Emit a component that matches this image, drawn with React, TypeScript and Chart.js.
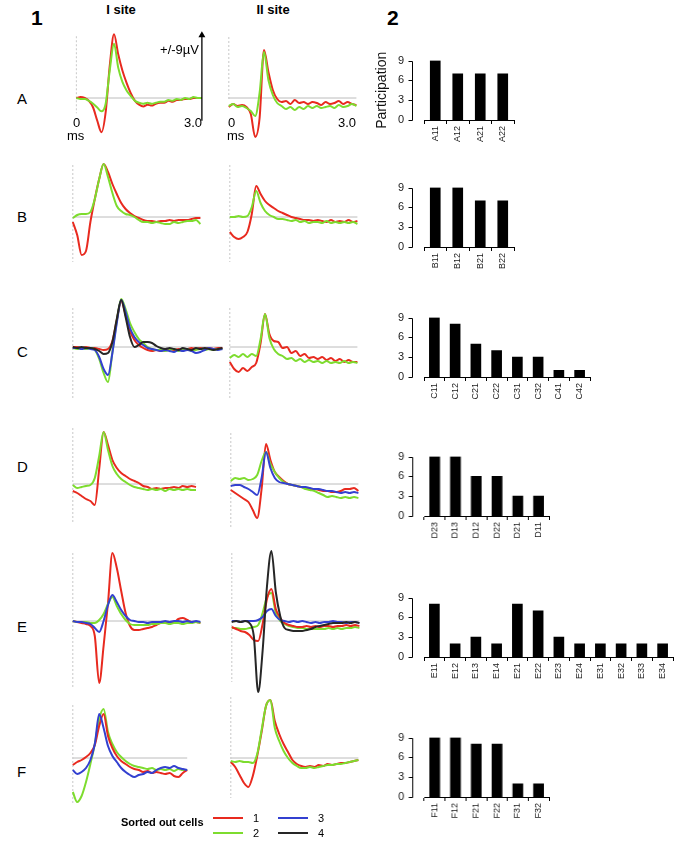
import React, { useEffect, useRef } from "react";
import { Chart, registerables } from "chart.js";

Chart.register(...registerables);

const FONT = "'Liberation Sans', Arial, Helvetica, sans-serif";
Chart.defaults.font.family = FONT;

// ---------- waveform data (µV, sampled every 0.1 ms) ----------
const TIME = [0, 0.1, 0.2, 0.3, 0.4, 0.5, 0.6, 0.7, 0.8, 0.9, 1.0, 1.1, 1.2, 1.3, 1.4, 1.5, 1.6, 1.7, 1.8, 1.9, 2.0, 2.1, 2.2, 2.3, 2.4, 2.5, 2.6, 2.7, 2.8, 2.9, 3.0, 3.1, 3.2, 3.3, 3.4];

const A1_red = [0.0, 0.1, 0.0, -0.3, -1.0, -2.4, -3.6, -1.5, 3.5, 6.7, 4.6, 2.9, 1.6, 0.5, -0.3, -0.7, -0.9, -0.7, -0.8, -0.6, -0.5, -0.5, -0.3, -0.4, -0.2, -0.2, -0.1, -0.1, 0.0, 0.0, 0.0];
const A1_green = [0.0, -0.1, -0.1, -0.3, -0.6, -1.0, -1.4, -0.6, 3.0, 5.7, 3.2, 1.7, 0.8, 0.2, -0.3, -0.5, -0.6, -0.5, -0.6, -0.5, -0.4, -0.4, -0.2, -0.3, -0.1, -0.2, 0.0, -0.1, 0.1, 0.0, 0.0];

const A2_red = [-0.9, -0.6, -0.8, -0.7, -0.9, -1.6, -3.9, -2.0, 4.8, 2.6, 0.8, -0.1, -0.4, -0.3, -0.6, -0.2, -0.5, -0.4, -0.6, -0.4, -0.5, -0.7, -0.4, -0.6, -0.5, -0.3, -0.6, -0.4, -0.6, -0.7];
const A2_green = [-0.8, -0.6, -0.9, -0.8, -1.0, -1.3, -1.8, 0.5, 4.6, 1.8, 0.3, -0.5, -0.8, -1.1, -0.9, -1.2, -0.9, -1.1, -0.8, -1.0, -0.8, -1.0, -0.9, -0.8, -1.0, -0.7, -0.9, -0.8, -0.6, -0.8];

const B1_red = [-0.5, -1.8, -3.8, -3.4, -0.5, 1.8, 3.8, 5.3, 4.5, 3.3, 2.3, 1.4, 0.8, 0.4, 0.1, -0.1, -0.3, -0.4, -0.4, -0.5, -0.4, -0.4, -0.3, -0.4, -0.3, -0.3, -0.3, -0.2, -0.1, -0.1];
const B1_green = [-0.1, 0.2, 0.3, 0.3, 0.5, 1.8, 3.8, 5.3, 4.0, 2.4, 1.1, 0.6, 0.3, 0.2, 0.0, -0.3, -0.5, -0.5, -0.6, -0.5, -0.6, -0.7, -0.7, -0.5, -0.6, -0.5, -0.4, -0.4, -0.3, -0.7];

const B2_red = [-1.5, -2.0, -2.2, -2.0, -1.5, 0.3, 3.1, 2.3, 1.6, 1.2, 0.9, 0.6, 0.4, 0.2, 0.0, -0.1, -0.2, -0.3, -0.3, -0.4, -0.3, -0.4, -0.5, -0.3, -0.5, -0.4, -0.5, -0.3, -0.5, -0.4];
const B2_green = [0.0, 0.0, 0.1, 0.0, 0.1, 1.0, 2.6, 1.4, 0.6, 0.2, 0.0, -0.2, -0.2, -0.3, -0.4, -0.3, -0.5, -0.4, -0.6, -0.5, -0.5, -0.6, -0.4, -0.6, -0.5, -0.6, -0.5, -0.6, -0.5, -0.7];

const C1_red = [0.0, 0.0, -0.1, 0.0, -0.1, -0.1, -0.2, -0.3, -0.2, 0.6, 2.7, 4.6, 3.2, 1.6, 0.7, 0.2, -0.1, -0.3, -0.4, -0.3, -0.4, -0.3, -0.2, -0.3, -0.2, -0.3, -0.2, -0.1, -0.2, -0.1, -0.2, -0.1, -0.2, -0.1, -0.1];
const C1_green = [-0.1, -0.2, -0.1, -0.2, -0.1, -0.3, -1.2, -2.6, -3.5, -0.5, 2.6, 4.8, 3.8, 2.4, 1.5, 0.8, 0.4, 0.0, -0.2, -0.3, -0.3, -0.4, -0.3, -0.2, -0.4, -0.3, -0.2, -0.4, -0.3, -0.2, -0.3, -0.2, -0.3, -0.2, -0.2];
const C1_blue = [-0.1, -0.1, -0.2, -0.1, -0.2, -0.3, -1.0, -2.2, -2.8, -0.6, 2.4, 4.7, 3.5, 1.9, 1.0, 0.5, 0.2, -0.1, -0.2, -0.3, -0.4, -0.3, -0.4, -0.5, -0.3, -0.4, -0.3, -0.4, -0.6, -0.5, -0.3, -0.1, -0.2, -0.3, -0.2];
const C1_black = [0.0, -0.1, 0.0, -0.1, -0.1, -0.2, -0.4, -0.7, -0.6, 0.5, 2.8, 4.7, 3.0, 1.0, 0.0, 0.2, 0.5, 0.5, 0.4, 0.1, -0.1, -0.2, -0.1, -0.2, -0.3, -0.1, -0.2, -0.3, -0.1, -0.2, -0.1, -0.2, -0.3, -0.2, -0.1];

const C2_red = [-1.5, -2.2, -2.5, -2.1, -2.4, -2.0, -1.6, 0.4, 3.3, 1.3, 0.6, 0.5, -0.1, 0.0, -0.6, -0.4, -0.9, -0.7, -1.1, -1.0, -1.2, -1.0, -1.3, -1.1, -1.4, -1.2, -1.5, -1.3, -1.5, -1.5];
const C2_green = [-1.1, -0.8, -1.0, -0.7, -1.0, -0.7, -0.9, 0.8, 3.3, 0.9, -0.2, -0.7, -0.9, -1.2, -1.1, -1.4, -1.2, -1.5, -1.3, -1.5, -1.4, -1.6, -1.4, -1.6, -1.5, -1.6, -1.4, -1.6, -1.5, -1.6];

const D1_red = [-0.7, -0.9, -1.2, -1.5, -1.7, -2.1, 1.5, 5.2, 3.9, 2.4, 1.6, 1.1, 0.8, 0.5, 0.3, 0.1, -0.2, -0.3, -0.5, -0.4, -0.5, -0.4, -0.4, -0.3, -0.4, -0.2, -0.3, -0.2, -0.3];
const D1_green = [-0.1, -0.4, -0.3, -0.2, -0.1, 0.6, 2.8, 5.2, 3.4, 1.8, 1.0, 0.5, 0.2, -0.1, -0.3, -0.4, -0.5, -0.6, -0.5, -0.6, -0.5, -0.7, -0.5, -0.6, -0.5, -0.6, -0.5, -0.6, -0.6];

const D2_red = [-0.6, -0.9, -1.2, -1.5, -1.8, -2.6, -3.4, -0.5, 4.0, 2.4, 1.2, 0.7, 0.3, 0.0, -0.1, -0.2, -0.3, -0.4, -0.5, -0.5, -0.6, -0.7, -0.7, -0.8, -0.8, -0.7, -0.5, -0.5, -0.4, -0.7];
const D2_green = [0.3, 0.6, 0.5, 0.6, 0.4, 0.5, 0.9, 2.3, 3.2, 2.0, 1.2, 0.6, 0.2, 0.0, -0.1, -0.2, -0.3, -0.5, -0.6, -0.7, -0.9, -1.1, -1.3, -1.2, -1.3, -1.4, -1.3, -1.4, -1.3, -1.4];
const D2_blue = [-0.2, -0.1, -0.1, -0.3, -0.5, -0.8, -1.1, 0.6, 3.2, 1.6, 0.6, 0.2, 0.1, 0.0, -0.1, -0.2, -0.3, -0.3, -0.4, -0.5, -0.5, -0.6, -0.7, -0.7, -0.8, -0.9, -0.8, -0.9, -0.8, -0.9];

const E1_red = [0.0, -0.1, -0.2, -0.3, -0.5, -1.5, -6.2, -2.5, 1.8, 6.8, 5.3, 3.0, 0.8, -0.5, -0.9, -0.9, -0.8, -0.7, -0.6, -0.4, -0.2, -0.2, -0.1, -0.1, 0.2, 0.3, 0.1, -0.1, -0.1, -0.2];
const E1_green = [0.0, -0.1, -0.1, -0.1, -0.2, -0.2, 0.1, 0.7, 1.7, 2.4, 1.5, 0.7, 0.1, -0.3, -0.4, -0.4, -0.4, -0.4, -0.3, -0.3, -0.2, -0.2, -0.3, -0.2, -0.2, -0.3, -0.2, -0.2, -0.1, -0.2];
const E1_blue = [0.0, -0.1, -0.1, -0.2, -0.3, -0.7, -1.1, 0.0, 1.6, 2.6, 1.9, 1.1, 0.5, 0.1, 0.0, -0.1, -0.1, -0.2, -0.1, -0.1, -0.1, 0.0, -0.1, 0.0, 0.0, -0.1, 0.0, -0.1, 0.0, -0.1];

const E2_red = [-0.6, -0.8, -1.0, -1.1, -1.4, -1.9, -2.0, -0.3, 2.2, 3.2, 1.2, 0.3, -0.2, -0.4, -0.5, -0.6, -0.6, -0.5, -0.6, -0.5, -0.6, -0.5, -0.5, -0.6, -0.5, -0.5, -0.4, -0.5, -0.4, -0.5];
const E2_green = [-0.7, -0.7, -0.8, -0.8, -0.7, -0.6, -0.4, 0.8, 2.4, 2.8, 0.8, 0.0, -0.3, -0.5, -0.6, -0.7, -0.7, -0.8, -0.8, -0.8, -0.8, -0.8, -0.7, -0.8, -0.7, -0.8, -0.7, -0.7, -0.6, -0.7];
const E2_blue = [0.0, 0.0, -0.1, 0.0, 0.0, 0.0, 0.1, 0.4, 1.0, 1.2, 0.5, 0.1, 0.0, -0.1, 0.0, -0.1, 0.0, -0.1, -0.2, -0.1, -0.2, -0.1, -0.1, 0.0, -0.1, -0.1, -0.2, -0.1, -0.1, -0.2];
const E2_black = [-0.1, 0.0, -0.1, 0.0, -0.2, -1.5, -7.1, -3.0, 3.5, 7.0, 2.9, 0.5, -0.7, -0.9, -1.0, -1.0, -1.0, -0.9, -0.8, -0.6, -0.5, -0.4, -0.3, -0.2, -0.2, -0.2, -0.1, -0.2, -0.1, -0.2];

const F1_red = [-0.7, -0.4, -0.2, 0.1, 0.5, 1.3, 3.2, 4.4, 2.2, 1.0, 0.2, -0.3, -0.6, -0.9, -1.1, -1.2, -1.4, -1.3, -1.5, -1.4, -1.5, -1.6, -1.5, -1.8, -1.9, -1.5, -1.2];
const F1_green = [-3.4, -4.4, -3.8, -2.4, -0.6, 1.4, 3.9, 4.9, 2.6, 1.4, 0.6, 0.1, -0.3, -0.6, -0.8, -0.9, -1.0, -1.1, -1.0, -1.2, -1.1, -1.2, -1.1, -1.3, -1.1, -1.2, -1.2];
const F1_blue = [-1.2, -1.6, -1.4, -1.0, -0.2, 1.4, 4.4, 3.0, 1.2, 0.2, -0.4, -1.0, -1.4, -1.7, -1.9, -1.7, -1.6, -1.4, -1.5, -1.2, -1.0, -0.9, -1.0, -0.8, -1.0, -1.1, -1.2];

const F2_red = [-0.4, -0.9, -1.7, -2.5, -2.9, -1.8, 0.2, 2.6, 5.2, 5.8, 3.7, 2.4, 1.4, 0.6, -0.2, -0.6, -0.8, -0.9, -0.8, -0.9, -0.7, -0.8, -0.6, -0.7, -0.6, -0.5, -0.5, -0.4, -0.3, -0.2];
const F2_green = [-0.3, -0.4, -0.3, -0.4, -0.4, -0.5, 0.4, 2.8, 5.2, 5.8, 3.0, 1.7, 0.7, 0.0, -0.5, -0.8, -1.0, -1.0, -0.9, -1.0, -0.9, -0.8, -0.7, -0.7, -0.6, -0.6, -0.5, -0.4, -0.3, -0.2];

const SCALE_BAR_UV = 9;

// ---------- participation data ----------
const A_labels = ["A11", "A12", "A21", "A22"];
const A_values = [9, 7, 7, 7];
const B_labels = ["B11", "B12", "B21", "B22"];
const B_values = [9, 9, 7, 7];
const C_labels = ["C11", "C12", "C21", "C22", "C31", "C32", "C41", "C42"];
const C_values = [9, 8, 5, 4, 3, 3, 1, 1];
const D_labels = ["D23", "D13", "D12", "D22", "D21", "D11"];
const D_values = [9, 9, 6, 6, 3, 3];
const E_labels = ["E11", "E12", "E13", "E14", "E21", "E22", "E23", "E24", "E31", "E32", "E33", "E34"];
const E_values = [8, 2, 3, 2, 8, 7, 3, 2, 2, 2, 2, 2];
const F_labels = ["F11", "F12", "F21", "F22", "F31", "F32"];
const F_values = [9, 9, 8, 8, 2, 2];
const Y_TICKS_MAX = 9;

// ---------- styles / layout ----------
const COLORS: Record<string, string> = {
  red: "#e82a1f",
  green: "#7ddc2e",
  blue: "#3340d0",
  black: "#262626",
};

type Trace = { cell: string; values: number[] };
type WavePanel = {
  left: number;
  base: number;
  dash: [number, number];
  arrow?: boolean;
  traces: Trace[];
};

const WAVES: WavePanel[] = [
  { left: 73, base: 98, dash: [6.5, -1.6], arrow: true, traces: [{ cell: "green", values: A1_green }, { cell: "red", values: A1_red }] },
  { left: 229, base: 98, dash: [6.1, -0.3], traces: [{ cell: "green", values: A2_green }, { cell: "red", values: A2_red }] },
  { left: 73, base: 217, dash: [5.2, -4.5], traces: [{ cell: "green", values: B1_green }, { cell: "red", values: B1_red }] },
  { left: 230, base: 217, dash: [5.2, -4.5], traces: [{ cell: "green", values: B2_green }, { cell: "red", values: B2_red }] },
  { left: 73, base: 347, dash: [3.9, -5.3], traces: [{ cell: "black", values: C1_black }, { cell: "blue", values: C1_blue }, { cell: "green", values: C1_green }, { cell: "red", values: C1_red }] },
  { left: 230, base: 347, dash: [3.9, -5.3], traces: [{ cell: "green", values: C2_green }, { cell: "red", values: C2_red }] },
  { left: 73, base: 484, dash: [5.6, -3.9], traces: [{ cell: "green", values: D1_green }, { cell: "red", values: D1_red }] },
  { left: 231, base: 484, dash: [5.1, -4.4], traces: [{ cell: "blue", values: D2_blue }, { cell: "green", values: D2_green }, { cell: "red", values: D2_red }] },
  { left: 73, base: 621, dash: [6.8, -6.6], traces: [{ cell: "blue", values: E1_blue }, { cell: "green", values: E1_green }, { cell: "red", values: E1_red }] },
  { left: 232, base: 621, dash: [6.8, -6.1], traces: [{ cell: "black", values: E2_black }, { cell: "blue", values: E2_blue }, { cell: "red", values: E2_red }, { cell: "green", values: E2_green }] },
  { left: 73, base: 758, dash: [5.3, -4.5], traces: [{ cell: "blue", values: F1_blue }, { cell: "red", values: F1_red }, { cell: "green", values: F1_green }] },
  { left: 231, base: 758, dash: [6.1, -4.0], traces: [{ cell: "green", values: F2_green }, { cell: "red", values: F2_red }] },
];

const PX_PER_MS = 44;
const PX_PER_UV = 10;
const X_MIN = -0.2;
const CANVAS_W = 163;
const Y_HALF = 8;

function WaveChart({ p }: { p: WavePanel }) {
  const ref = useRef<HTMLCanvasElement>(null);
  useEffect(() => {
    if (!ref.current) return;
    const n = Math.max(...p.traces.map((t) => t.values.length));
    const end = TIME[n - 1];
    const datasets: any[] = p.traces.map((t) => ({
      data: t.values.map((v, i) => ({ x: TIME[i], y: v })),
      borderColor: COLORS[t.cell],
      borderWidth: 2,
      pointRadius: 0,
      cubicInterpolationMode: "monotone",
      fill: false,
    }));
    if (p.arrow) {
      datasets.unshift({
        data: [
          { x: 3.0, y: -2.4 },
          { x: 3.0, y: -2.4 + SCALE_BAR_UV },
        ],
        borderColor: "#000",
        borderWidth: 1.3,
        pointRadius: [0, 4],
        pointStyle: "triangle",
        pointBackgroundColor: "#000",
        pointBorderColor: "#000",
        pointBorderWidth: 0,
      });
    }
    datasets.push({
      data: [
        { x: 0, y: 0 },
        { x: end, y: 0 },
      ],
      borderColor: "#bcbcbc",
      borderWidth: 1,
      pointRadius: 0,
    });
    datasets.push({
      data: [
        { x: 0, y: p.dash[0] },
        { x: 0, y: p.dash[1] },
      ],
      borderColor: "#c8c8c8",
      borderWidth: 1,
      borderDash: [2, 2],
      pointRadius: 0,
    });
    const chart = new Chart(ref.current, {
      type: "line",
      data: { datasets },
      options: {
        animation: false,
        responsive: false,
        devicePixelRatio: 1,
        events: [],
        layout: { padding: 0 },
        plugins: { legend: { display: false }, tooltip: { enabled: false } },
        scales: {
          x: { type: "linear", min: X_MIN, max: X_MIN + CANVAS_W / PX_PER_MS, display: false },
          y: { type: "linear", min: -Y_HALF, max: Y_HALF, display: false },
        },
      },
    });
    return () => chart.destroy();
  }, []);
  const h = Y_HALF * 2 * PX_PER_UV;
  return (
    <canvas
      ref={ref}
      width={CANVAS_W}
      height={h}
      style={{ position: "absolute", left: p.left + X_MIN * PX_PER_MS, top: p.base - h / 2, width: CANVAS_W, height: h }}
    />
  );
}

type BarPanel = { labels: string[]; values: number[]; top9: number; cw: number; title?: boolean };

const BARS: BarPanel[] = [
  { labels: A_labels, values: A_values, top9: 42, cw: 22.5, title: true },
  { labels: B_labels, values: B_values, top9: 169, cw: 22.5 },
  { labels: C_labels, values: C_values, top9: 299, cw: 20.75 },
  { labels: D_labels, values: D_values, top9: 438, cw: 20.75 },
  { labels: E_labels, values: E_values, top9: 579, cw: 20.75 },
  { labels: F_labels, values: F_values, top9: 719, cw: 20.75 },
];

const BAR_LEFT = 370;
const Y_AXIS_W = 54;
const PLOT_H = 78;
const PAD_TOP = 8;
const X_AXIS_H = 30;
const PAD_RIGHT = 8;

const offsetYAxis = {
  id: "offsetYAxis",
  afterDraw(chart: any) {
    const { ctx, chartArea, scales } = chart;
    const y = scales.y;
    const x = Math.round(chartArea.left - 12) + 0.5;
    ctx.save();
    ctx.strokeStyle = "#000";
    ctx.lineWidth = 1;
    ctx.beginPath();
    const y0 = Math.round(y.getPixelForValue(0)) + 0.5;
    const y9 = Math.round(y.getPixelForValue(Y_TICKS_MAX)) + 0.5;
    ctx.moveTo(x, y0);
    ctx.lineTo(x, y9);
    y.ticks.forEach((t: any) => {
      const py = Math.round(y.getPixelForValue(t.value)) + 0.5;
      ctx.moveTo(x - 4, py);
      ctx.lineTo(x, py);
    });
    ctx.stroke();
    ctx.restore();
  },
};

function BarChart({ b }: { b: BarPanel }) {
  const ref = useRef<HTMLCanvasElement>(null);
  const w = Y_AXIS_W + b.labels.length * b.cw + PAD_RIGHT;
  const h = PAD_TOP + PLOT_H + X_AXIS_H;
  useEffect(() => {
    if (!ref.current) return;
    const chart = new Chart(ref.current, {
      type: "bar",
      data: {
        labels: b.labels,
        datasets: [{ data: b.values, backgroundColor: "#000", borderWidth: 0, barThickness: 10 }],
      },
      options: {
        animation: false,
        responsive: false,
        devicePixelRatio: 1,
        events: [],
        layout: { padding: { top: PAD_TOP, right: PAD_RIGHT, bottom: 0, left: 0 } },
        plugins: { legend: { display: false }, tooltip: { enabled: false } },
        scales: {
          x: {
            type: "category",
            offset: true,
            grid: { display: true, drawOnChartArea: false, drawTicks: true, tickLength: 4, color: "#000", lineWidth: 1, offset: true },
            border: { display: true, color: "#000", width: 1 },
            ticks: { color: "#1a1a1a", font: { size: 9, family: FONT }, minRotation: 90, maxRotation: 90, padding: 2, autoSkip: false },
            afterFit: (s: any) => {
              s.height = X_AXIS_H;
            },
          },
          y: {
            min: 0,
            max: Y_TICKS_MAX,
            ticks: { stepSize: 3, color: "#1a1a1a", font: { size: 11, family: FONT }, padding: 20 },
            grid: { display: false, drawTicks: false },
            border: { display: false },
            title: { display: !!b.title, text: "Participation", color: "#111", font: { size: 14, family: FONT }, padding: { top: 4, bottom: 0 } },
            afterFit: (s: any) => {
              s.width = Y_AXIS_W;
            },
          },
        },
      },
      plugins: [offsetYAxis],
    });
    return () => chart.destroy();
  }, []);
  return (
    <canvas
      ref={ref}
      width={w}
      height={h}
      style={{ position: "absolute", left: BAR_LEFT, top: b.top9 - PAD_TOP, width: w, height: h }}
    />
  );
}

function Txt({ x, y, size, bold, align, children }: { x: number; y: number; size: number; bold?: boolean; align?: "left" | "right" | "center"; children: React.ReactNode }) {
  const style: React.CSSProperties = {
    position: "absolute",
    top: y - 0.8465 * size,
    fontSize: size,
    lineHeight: `${size}px`,
    height: size,
    fontWeight: bold ? 700 : 400,
    fontFamily: FONT,
    color: "#000",
    whiteSpace: "nowrap",
  };
  if (align === "right") {
    style.right = 685 - x;
  } else if (align === "center") {
    style.left = x - 100;
    style.width = 200;
    style.textAlign = "center";
  } else {
    style.left = x;
  }
  return <div style={style}>{children}</div>;
}

const ROW_LETTERS = [
  { t: "A", y: 104 },
  { t: "B", y: 222 },
  { t: "C", y: 357 },
  { t: "D", y: 472 },
  { t: "E", y: 632 },
  { t: "F", y: 777 },
];

function LegendItem({ x, y, color, label }: { x: number; y: number; color: string; label: string }) {
  return (
    <>
      <div style={{ position: "absolute", left: x, top: y - 0.75, width: 30, height: 1.5, background: color }} />
      <Txt x={x + 40} y={y + 4} size={11}>
        {label}
      </Txt>
    </>
  );
}

export default function App() {
  return (
    <div style={{ position: "absolute", left: 0, top: 0, width: 685, height: 844, background: "#fff", overflow: "hidden" }}>
      <Txt x={31} y={25} size={21} bold>
        1
      </Txt>
      <Txt x={387} y={25} size={21} bold>
        2
      </Txt>
      <Txt x={121} y={14} size={13} bold align="center">
        I site
      </Txt>
      <Txt x={273} y={14} size={13} bold align="center">
        II site
      </Txt>
      {ROW_LETTERS.map((r) => (
        <Txt key={r.t} x={17} y={r.y} size={15}>
          {r.t}
        </Txt>
      ))}
      {WAVES.map((p, i) => (
        <WaveChart key={i} p={p} />
      ))}
      <Txt x={199} y={54} size={13} align="right">
        +/-9µV
      </Txt>
      <Txt x={73} y={127} size={13}>
        0
      </Txt>
      <Txt x={67} y={140} size={13}>
        ms
      </Txt>
      <Txt x={202} y={127} size={13} align="right">
        3.0
      </Txt>
      <Txt x={228} y={127} size={13}>
        0
      </Txt>
      <Txt x={227} y={140} size={13}>
        ms
      </Txt>
      <Txt x={356} y={127} size={13} align="right">
        3.0
      </Txt>
      {BARS.map((b, i) => (
        <BarChart key={i} b={b} />
      ))}
      <Txt x={121} y={826} size={11} bold>
        Sorted out cells
      </Txt>
      <LegendItem x={213} y={818} color={COLORS.red} label="1" />
      <LegendItem x={213} y={833} color={COLORS.green} label="2" />
      <LegendItem x={278} y={818} color={COLORS.blue} label="3" />
      <LegendItem x={278} y={833} color={COLORS.black} label="4" />
    </div>
  );
}
